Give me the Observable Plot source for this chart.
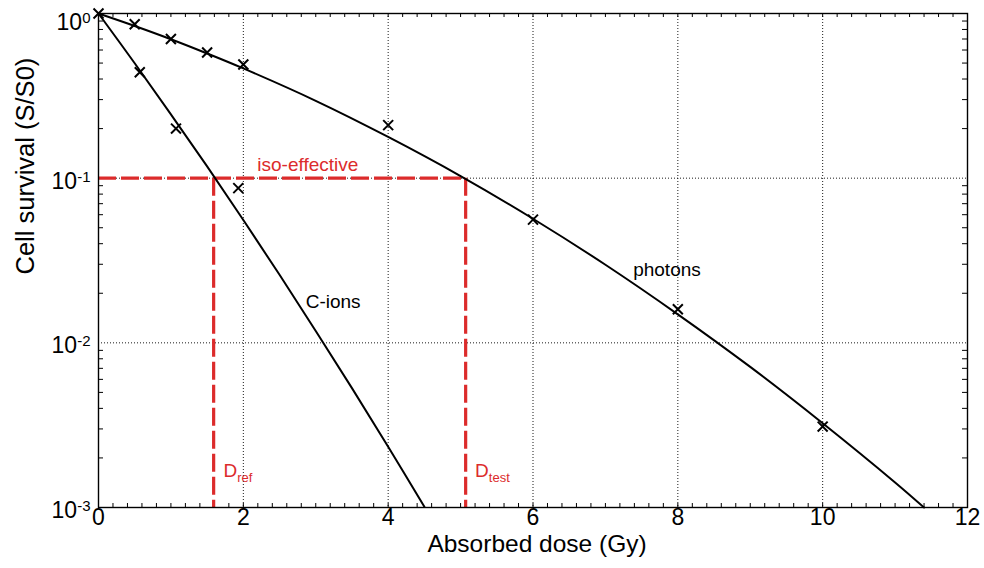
<!DOCTYPE html>
<html><head><meta charset="utf-8">
<script src="https://cdn.jsdelivr.net/npm/d3@7"></script>
<script src="https://cdn.jsdelivr.net/npm/@observablehq/plot@0.6"></script>
<style>body{margin:0;background:#fff} #chart svg{font-family:"Liberation Sans",Arial,Helvetica,sans-serif}</style>
</head><body><div id="chart"></div><script>
// ---- data ----
const xTickValues = [0, 2, 4, 6, 8, 10, 12];
const xGridValues = [2, 4, 6, 8, 10];
const yTickValues = [1, 0.1, 0.01, 0.001];
const yTickExponents = ["0", "-1", "-2", "-3"];
const yGridValues = [0.1, 0.01];

const photonFitDose = [0, 0.5, 1, 1.5, 2, 3, 4, 5, 6, 7, 8, 9, 10, 11, 11.4];
const photonFitSurv = [1, 0.840, 0.698, 0.572, 0.464, 0.295, 0.178, 0.103, 0.0567, 0.0298, 0.0149, 0.00714, 0.00325, 0.00142, 0.0010];
const ionFitDose = [0, 0.5, 1, 1.5, 2, 2.5, 3, 3.5, 4, 4.5];
const ionFitSurv = [1, 0.499, 0.244, 0.118, 0.0557, 0.0259, 0.0118, 0.00531, 0.00234, 0.00101];

const photonPtDose = [0, 0.5, 1, 1.5, 2, 4, 6, 8, 10];
const photonPtSurv = [1.0, 0.86, 0.70, 0.58, 0.49, 0.21, 0.056, 0.016, 0.0031];
const ionPtDose = [0.57, 1.07, 1.93];
const ionPtSurv = [0.44, 0.20, 0.087];

const isoLevel = 0.1;
const doseRef = 1.59;
const doseTest = 5.07;

const labelTexts = ["iso-effective", "C-ions", "photons", "D_ref", "D_test"];
const labelDose = [2.89, 3.24, 7.85, 1.725, 5.20];
const labelSurv = [0.120, 0.0176, 0.0278, 0.00166, 0.00166];

// ---- build tables ----
const photonFit = photonFitDose.map((d, i) => ({d, s: photonFitSurv[i]}));
const ionFit = ionFitDose.map((d, i) => ({d, s: ionFitSurv[i]}));
const points = photonPtDose.map((d, i) => ({d, s: photonPtSurv[i]}))
  .concat(ionPtDose.map((d, i) => ({d, s: ionPtSurv[i]})));
const yLabels = yTickValues.map((v, i) => ({v, t: "10^" + yTickExponents[i]}));
const labels = labelTexts.map((t, i) => ({t, d: labelDose[i], s: labelSurv[i]}));

const W = 984, H = 568, mL = 98, mR = 17, mT = 13, mB = 61;
const innerW = W - mL - mR, innerH = H - mT - mB;
const xMinor = d3.range(0, 12.0001, 0.2).map(v => +v.toFixed(1));
const yMinor = [];
for (let e = -3; e < 0; e++) for (let k = 2; k <= 9; k++) yMinor.push(k * Math.pow(10, e));

const red = "#dc2b2b";
const dotted = {stroke: "black", strokeWidth: 0.9, strokeDasharray: "1,2"};

const svg = Plot.plot({
  width: W, height: H,
  marginLeft: mL, marginRight: mR, marginTop: mT, marginBottom: mB,
  x: {domain: [0, 12], axis: null},
  y: {type: "log", domain: [0.001, 1], axis: null},
  style: {background: "white", fontFamily: "'Liberation Sans', Arial, sans-serif"},
  marks: [
    Plot.ruleX(xGridValues, dotted),
    Plot.ruleY(yGridValues, dotted),
    Plot.tickX(xMinor, {x: d => d, insetTop: innerH - 4, stroke: "black", strokeWidth: 1}),
    Plot.tickX(xMinor, {x: d => d, insetBottom: innerH - 4, stroke: "black", strokeWidth: 1}),
    Plot.tickY(yMinor, {y: d => d, insetRight: innerW - 5, stroke: "black", strokeWidth: 1}),
    Plot.tickY(yMinor, {y: d => d, insetLeft: innerW - 5, stroke: "black", strokeWidth: 1}),
    Plot.ruleY([isoLevel], {x1: 0, x2: doseTest, stroke: red, strokeWidth: 3.2, strokeDasharray: "18,5"}),
    Plot.ruleX([doseRef, doseTest], {x: d => d, y1: isoLevel, y2: 0.001, stroke: red, strokeWidth: 3.2, strokeDasharray: "18,5"}),
    Plot.line(photonFit, {x: "d", y: "s", curve: "catmull-rom", stroke: "black", strokeWidth: 2}),
    Plot.line(ionFit, {x: "d", y: "s", curve: "catmull-rom", stroke: "black", strokeWidth: 2}),
    Plot.dot(points, {x: "d", y: "s", symbol: "times", r: 4.6, stroke: "black", strokeWidth: 2}),
    Plot.frame({stroke: "black", strokeWidth: 1.4}),
    Plot.text(xTickValues, {x: d => d, frameAnchor: "bottom", dy: 17, text: d => String(d), fontSize: 23, fill: "black"}),
    Plot.text(yLabels.slice(0, 1), {y: "v", frameAnchor: "left", dx: -8, dy: 9, textAnchor: "end", text: "t", fontSize: 23, fill: "black"}),
    Plot.text(yLabels.slice(1), {y: "v", frameAnchor: "left", dx: -8, dy: 3, textAnchor: "end", text: "t", fontSize: 23, fill: "black"}),
    Plot.text(labels.slice(0, 3), {x: "d", y: "s", text: "t", fontSize: 19, textAnchor: "middle",
      fill: (d) => d.t === "iso-effective" ? red : "black"}),
    Plot.text(labels.slice(3), {x: "d", y: "s", text: "t", fontSize: 19, textAnchor: "start", fill: red}),
    Plot.text(["Absorbed dose (Gy)"], {frameAnchor: "bottom", dy: 44, dx: 4, text: d => d, fontSize: 24.5, fill: "black"}),
    Plot.text(["Cell survival (S/S0)"], {frameAnchor: "left", dx: -73, dy: 14, rotate: -90, text: d => d, fontSize: 25.5, fill: "black"})
  ]
});

// superscripts / subscripts as real text
d3.select(svg).selectAll("text").each(function () {
  const t = this.textContent;
  if (t.includes("^")) {
    const [base, exp] = t.split("^");
    this.textContent = base;
    d3.select(this).append("tspan").attr("dy", "-0.45em").attr("font-size", "15px").text(exp);
  } else if (t.includes("_")) {
    const [base, sub] = t.split("_");
    this.textContent = base;
    d3.select(this).append("tspan").attr("dy", "0.35em").attr("font-size", "13px").text(sub);
  }
});
document.getElementById("chart").appendChild(svg);
</script></body></html>
